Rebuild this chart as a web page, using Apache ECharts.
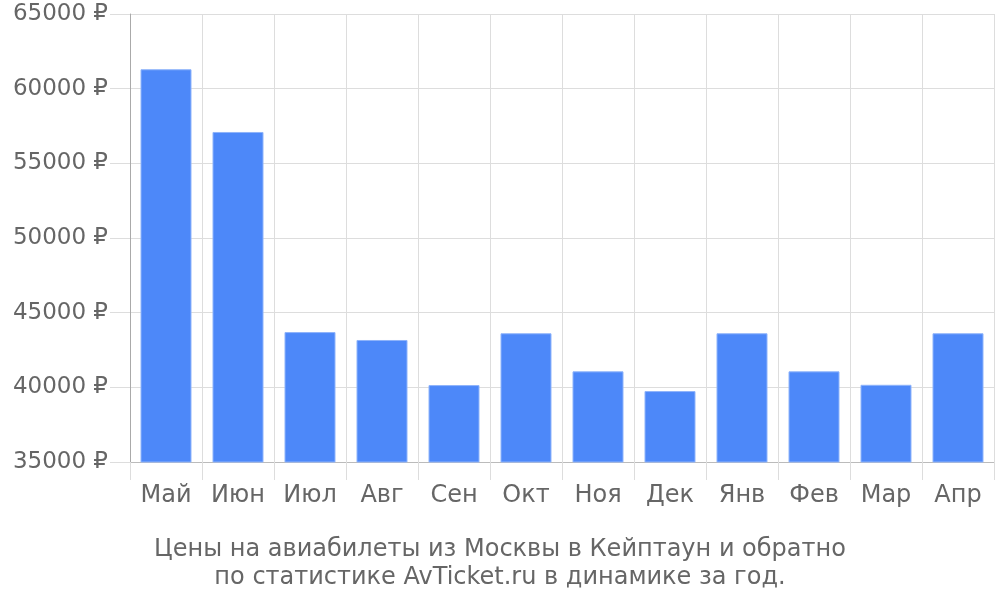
<!DOCTYPE html>
<html><head><meta charset="utf-8">
<script src="https://cdn.jsdelivr.net/npm/echarts@6/dist/echarts.min.js"></script>
<style>html,body{margin:0;padding:0;background:#fff}#c{width:1000px;height:600px}</style>
</head><body><div id="c"></div>
<script>
const categories = ['Май','Июн','Июл','Авг','Сен','Окт','Ноя','Дек','Янв','Фев','Мар','Апр'];
const prices = [61300, 57100, 43700, 43170, 40150, 43620, 41070, 39750, 43620, 41070, 40170, 43620];
const titleLines = ['Цены на авиабилеты из Москвы в Кейптаун и обратно', 'по статистике AvTicket.ru в динамике за год.'];

const chart = echarts.init(document.getElementById('c'));
chart.setOption({
  animation: false,
  textStyle: { fontFamily: 'DejaVu Sans' },
  title: {
    text: titleLines.join('\n'),
    left: 'center', top: 531,
    textStyle: { fontFamily: 'DejaVu Sans', fontSize: 24, fontWeight: 'normal', color: '#666', lineHeight: 28 }
  },
  grid: { left: 130, right: 6, top: 14, bottom: 138 },
  xAxis: {
    type: 'category', data: categories,
    axisLine: { show: true, lineStyle: { color: '#bbb', width: 1 } },
    axisTick: { show: true, length: 18, interval: 0, lineStyle: { color: '#ddd' } },
    splitLine: { show: true, interval: 0, lineStyle: { color: '#ddd' } },
    axisLabel: { interval: 0, fontSize: 24, color: '#666', margin: 22, fontFamily: 'DejaVu Sans' }
  },
  yAxis: {
    type: 'value', min: 35000, max: 65000, interval: 5000,
    axisLine: { show: true, lineStyle: { color: '#aaa' } },
    axisTick: { show: true, length: 20, lineStyle: { color: '#ddd' } },
    splitLine: { show: true, lineStyle: { color: '#ddd' } },
    axisLabel: { fontSize: 23, color: '#666', margin: 22, formatter: v => v + ' ₽', fontFamily: 'DejaVu Sans' }
  },
  series: [{
    type: 'bar', data: prices, barWidth: 51,
    itemStyle: { color: '#4d88f9', borderColor: '#8fb4fb', borderWidth: 1 }
  }]
});
</script></body></html>
